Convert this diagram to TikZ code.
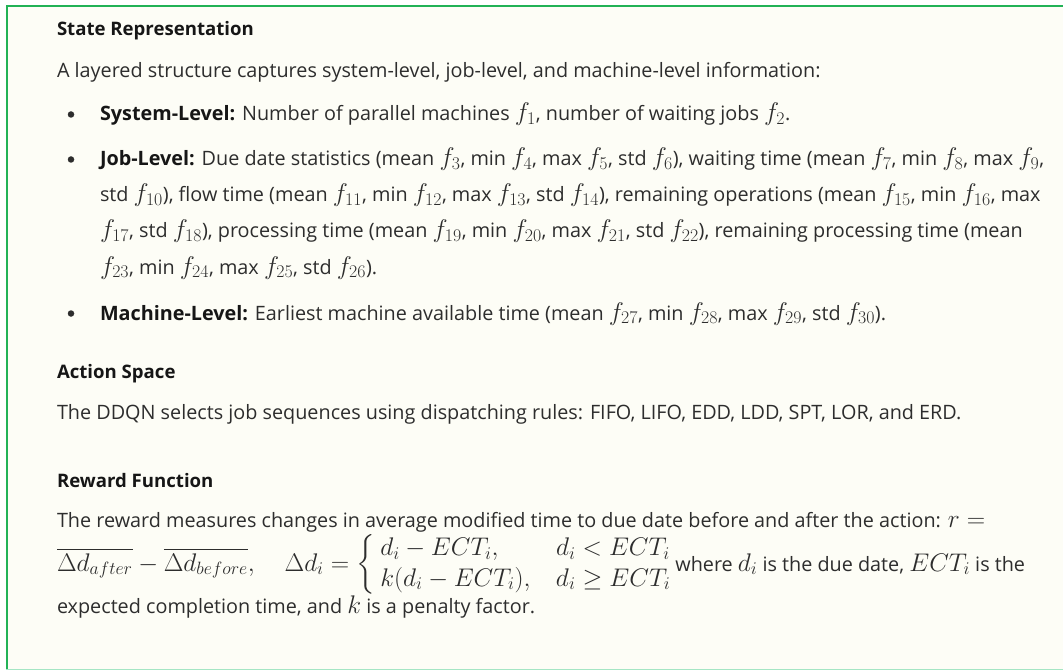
\RequirePackage{fix-cm}
\documentclass[tikz,border=0pt]{standalone}
\usepackage{amsmath}
\usepackage[no-math]{fontspec}
\setmainfont{Open Sans}

\definecolor{panelbg}{RGB}{253,253,246}
\definecolor{edgegreen}{RGB}{34,178,86}
\definecolor{edgemint}{RGB}{165,230,196}
\definecolor{bodytext}{RGB}{45,45,45}
\definecolor{headtext}{RGB}{22,22,22}

% inline math is set larger than the surrounding text
\newcommand{\mth}[1]{{\fontsize{25.5}{25.5}\selectfont$#1$}}
% two-row case split; the brace is sized to a fixed 54pt strut
\newcommand{\twocases}[4]{\left\{\vcenter{\hbox{\rule{0pt}{54pt}}}\right.\def\arraystretch{1.2}\begin{array}{@{}l@{\quad}l@{}} #1 & #2 \\ #3 & #4 \end{array}}

\tikzset{
  txtline/.style={anchor=base west, inner sep=0pt, outer sep=0pt, text=bodytext,
                  font=\fontsize{19.8}{22}\selectfont},
  headline/.style={txtline, text=headtext, font=\fontsize{18.6}{22}\selectfont\bfseries},
  bulletdot/.style={circle, fill=bodytext, draw=none, inner sep=0pt, minimum size=6.5pt}
}

\begin{document}
\begin{tikzpicture}[x=1pt, y=-1pt]
  \useasboundingbox (0,0) rectangle (1063,671);
  \fill[white] (0,0) rectangle (1063,671);

  % panel
  \fill[panelbg] (6,5) rectangle (1063,670);
  \draw[edgemint, line width=1.6pt] (6,669.4) -- (1063,669.4);
  \draw[edgegreen, line width=2pt] (1063,5.8) -- (6.8,5.8) -- (6.8,669);

  % state representation
  \node[headline] (h1) at (57,36) {State Representation};
  \node[txtline] (p1) at (57,78) {A layered structure captures system-level, job-level, and machine-level information:};

  \node[bulletdot] (b1) at (71,114.5) {};
  \node[txtline] (s1) at (100,121) {\textbf{\color{headtext}System-Level:} Number of parallel machines \mth{f_1}, number of waiting jobs \mth{f_2}.};

  \node[bulletdot] (b2) at (71,159.5) {};
  \node[txtline] (j1) at (100,166) {\textbf{\color{headtext}Job-Level:} Due date statistics (mean \mth{f_3}, min \mth{f_4}, max \mth{f_5}, std \mth{f_6}), waiting time (mean \mth{f_7}, min \mth{f_8}, max \mth{f_9},};
  \node[txtline] (j2) at (100,202) {std \mth{f_{10}}), flow time (mean \mth{f_{11}}, min \mth{f_{12}}, max \mth{f_{13}}, std \mth{f_{14}}), remaining operations (mean \mth{f_{15}}, min \mth{f_{16}}, max};
  \node[txtline] (j3) at (100,238) {\mth{f_{17}}, std \mth{f_{18}}), processing time (mean \mth{f_{19}}, min \mth{f_{20}}, max \mth{f_{21}}, std \mth{f_{22}}), remaining processing time (mean};
  \node[txtline] (j4) at (100,274) {\mth{f_{23}}, min \mth{f_{24}}, max \mth{f_{25}}, std \mth{f_{26}}).};

  \node[bulletdot] (b3) at (71,313.5) {};
  \node[txtline] (m1) at (100,320) {\textbf{\color{headtext}Machine-Level:} Earliest machine available time (mean \mth{f_{27}}, min \mth{f_{28}}, max \mth{f_{29}}, std \mth{f_{30}}).};

  % action space
  \node[headline] (h2) at (57,378) {Action Space};
  \node[txtline] (a1) at (57,419) {The DDQN selects job sequences using dispatching rules: FIFO, LIFO, EDD, LDD, SPT, LOR, and ERD.};

  % reward function
  \node[headline] (h3) at (57,487) {Reward Function};
  \node[txtline] (r1) at (57,527) {The reward measures changes in average modified time to due date before and after the action: \mth{r =}};
  \node[txtline] (r2) at (57,571) {\mth{\overline{\Delta d_{after}} - \overline{\Delta d_{before}}, \quad \Delta d_i = \twocases{d_i - ECT_i,}{d_i < ECT_i}{k(d_i - ECT_i),}{d_i \geq ECT_i}} where \mth{d_i} is the due date, \mth{ECT_i} is the};
  \node[txtline] (r3) at (57,613) {expected completion time, and \mth{k} is a penalty factor.};
\end{tikzpicture}
\end{document}
